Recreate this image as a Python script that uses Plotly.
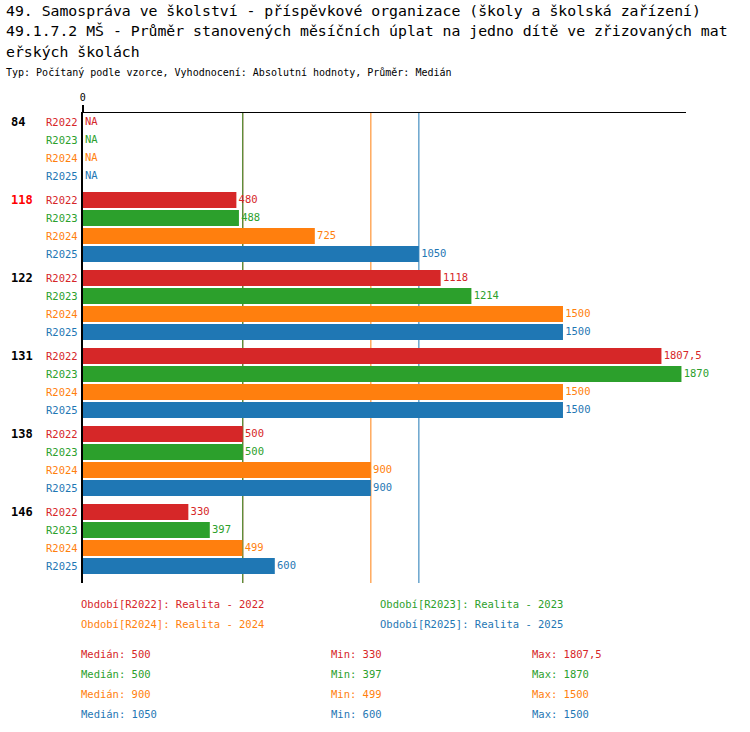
import numpy as np
import plotly.graph_objects as go

groups = ["84", "118", "122", "131", "138", "146"]
highlight = "118"
series = ["R2022", "R2023", "R2024", "R2025"]
series_names = ["Realita - 2022", "Realita - 2023", "Realita - 2024", "Realita - 2025"]
colors = ["#d62728", "#2ca02c", "#ff7f0e", "#1f77b4"]
values = {
    "R2022": [None, 480, 1118, 1807.5, 500, 330],
    "R2023": [None, 488, 1214, 1870, 500, 397],
    "R2024": [None, 725, 1500, 1500, 900, 499],
    "R2025": [None, 1050, 1500, 1500, 900, 600],
}

W, H = 750, 732
FONT = "DejaVu Sans Mono"
gap = 1 / 3


def fmt(v):
    if v is None:
        return "NA"
    if float(v).is_integer():
        return str(int(v))
    return str(v).replace(".", ",")


def px(x):
    return x / W


def py(y):
    return 1 - y / H


fig = go.Figure()
annotations = []

for s, (name, col) in enumerate(zip(series, colors)):
    vals = values[name]
    xs = [v if v is not None else 0 for v in vals]
    pos = [g * (len(series) + gap) + s for g in range(len(groups))]
    fig.add_trace(go.Bar(
        x=xs, y=pos, orientation="h",
        marker_color=col, marker_line_width=0, width=0.89,
        hoverinfo="skip", showlegend=False))
    fig.add_trace(go.Scatter(
        x=xs, y=pos, mode="markers+text",
        marker=dict(size=2, color="rgba(0,0,0,0)"),
        text=[fmt(v) for v in vals], textposition="middle right",
        textfont=dict(family=FONT, size=10.5, color=col),
        cliponaxis=False, hoverinfo="skip", showlegend=False))
    for p in pos:
        annotations.append(dict(x=px(77), xref="paper", y=p, yref="y", text=name,
                                showarrow=False, xanchor="right",
                                font=dict(family=FONT, size=10.5, color=col)))

for g, grp in enumerate(groups):
    annotations.append(dict(x=px(6), xref="paper", y=g * (len(series) + gap), yref="y",
                            text="<b>%s</b>" % grp, showarrow=False, xanchor="left",
                            font=dict(family=FONT, size=12,
                                      color="#ff0000" if grp == highlight else "black")))

# median lines
shapes = []
for name, col in zip(series, colors):
    med = float(np.median([v for v in values[name] if v is not None]))
    shapes.append(dict(type="line", x0=med, x1=med, xref="x", y0=0, y1=1, yref="y domain",
                       line=dict(color=col, width=1), layer="below"))

# titles
titles = [
    ("49. Samospráva ve školství - příspěvkové organizace (školy a školská zařízení)", 10, 14.8),
    ("49.1.7.2 MŠ - Průměr stanovených měsíčních úplat na jedno dítě ve zřizovaných mat", 31, 14.8),
    ("eřských školách", 52, 14.8),
    ("Typ: Počítaný podle vzorce, Vyhodnocení: Absolutní hodnoty, Průměr: Medián", 73, 10),
]
for t, y, sz in titles:
    annotations.append(dict(x=px(1), xref="paper", y=py(y), yref="paper", text=t,
                            showarrow=False, xanchor="left", yanchor="middle",
                            font=dict(family=FONT, size=sz, color="black")))

# legend
leg_pos = [(76, 604), (377, 604), (76, 624), (377, 624)]
for (x, y), name, lab, col in zip(leg_pos, series, series_names, colors):
    annotations.append(dict(x=px(x), xref="paper", y=py(y), yref="paper",
                            text="Období[%s]: %s" % (name, lab), showarrow=False,
                            xanchor="left", yanchor="middle",
                            font=dict(family=FONT, size=10.5, color=col)))

# stats
for i, (name, col) in enumerate(zip(series, colors)):
    vals = [v for v in values[name] if v is not None]
    stats = [("Medián", float(np.median(vals)), 76), ("Min", min(vals), 327), ("Max", max(vals), 529)]
    for lab, v, x in stats:
        annotations.append(dict(x=px(x), xref="paper", y=py(654 + 20 * i), yref="paper",
                                text="%s: %s" % (lab, fmt(v)), showarrow=False,
                                xanchor="left", yanchor="middle",
                                font=dict(family=FONT, size=10.5, color=col)))

top, bottom = 113, 583
n_units = (bottom - top) / 18
fig.update_layout(
    width=W, height=H, margin=dict(l=0, r=0, t=0, b=0),
    plot_bgcolor="white", paper_bgcolor="white", barmode="overlay",
    xaxis=dict(domain=[px(80), px(686)], range=[0, 1885], side="top",
               showgrid=False, zeroline=False, showline=True, linecolor="black", linewidth=1,
               tickvals=[0], ticktext=["0"], ticks="outside", ticklen=7, tickwidth=2,
               tickcolor="black", tickfont=dict(family=FONT, size=10, color="black")),
    yaxis=dict(domain=[py(bottom), py(top)], range=[n_units - 0.5, -0.5],
               showgrid=False, zeroline=False, showticklabels=False,
               showline=True, linecolor="black", linewidth=2),
    annotations=annotations, shapes=shapes,
)

# drop the default page margin so the figure fills the window
fig.write_html("out.html", config={"displayModeBar": False},
               post_script="document.body.style.margin='0';")
